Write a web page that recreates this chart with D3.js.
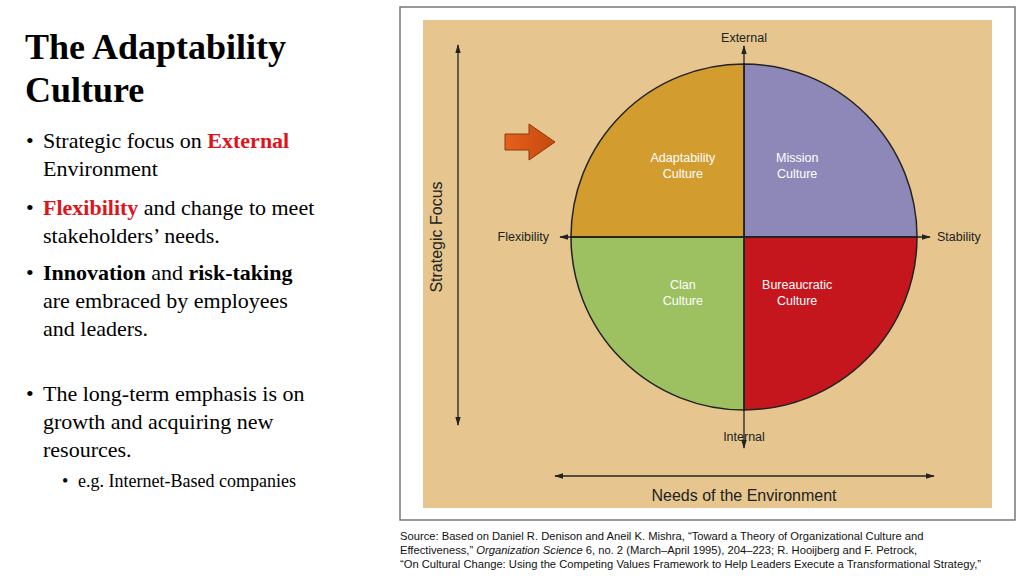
<!DOCTYPE html>
<html><head><meta charset="utf-8">
<script src="https://cdn.jsdelivr.net/npm/d3@7"></script>
<style>body{margin:0;background:#fff}svg{display:block}</style>
</head><body>
<svg id="s" width="1024" height="576"></svg>
<script>
const quadrants = ['Mission Culture', 'Bureaucratic Culture', 'Clan Culture', 'Adaptability Culture']
const quadrantValues = [1, 1, 1, 1]
const quadrantColors = ['#8e88b8', '#c4161c', '#9dc060', '#d29c2e']
const axisLabels = { top: 'External', bottom: 'Internal', left: 'Flexibility', right: 'Stability' }
const bullets = [
  { lines: [[['Strategic focus on ', 0], ['External', 2]], [['Environment', 0]]], y: 148 },
  { lines: [[['Flexibility', 2], [' and change to meet', 0]], [['stakeholders\u2019 needs.', 0]]], y: 215 },
  { lines: [[['Innovation', 1], [' and ', 0], ['risk-taking', 1]], [['are embraced by employees', 0]], [['and leaders.', 0]]], y: 280 },
  { lines: [[['The long-term emphasis is on', 0]], [['growth and acquiring new', 0]], [['resources.', 0]]], y: 401 }
]
const sourceLines = [
  [['Source: Based on Daniel R. Denison and Aneil K. Mishra, \u201cToward a Theory of Organizational Culture and', 0]],
  [['Effectiveness,\u201d ', 0], ['Organization Science', 1], [' 6, no. 2 (March\u2013April 1995), 204\u2013223; R. Hooijberg and F. Petrock,', 0]],
  [['\u201cOn Cultural Change: Using the Competing Values Framework to Help Leaders Execute a Transformational Strategy,\u201d', 0]]
]

const svg = d3.select('#s')
const serif = 'Liberation Serif, Times New Roman, serif'
const sans = 'Liberation Sans Narrow, Liberation Sans, Arial, sans-serif'

// left text
const title = svg.append('text').attr('x', 25).attr('font-family', serif).attr('font-weight', 'bold').attr('font-size', 36)
title.append('tspan').attr('x', 25).attr('y', 59).text('The Adaptability')
title.append('tspan').attr('x', 25).attr('y', 102).text('Culture')

bullets.forEach(b => {
  svg.append('text').attr('x', 26).attr('y', b.y).attr('font-family', serif).attr('font-size', 22).text('\u2022')
  b.lines.forEach((line, i) => {
    const t = svg.append('text').attr('x', 43).attr('y', b.y + i * 28).attr('font-family', serif).attr('font-size', 22)
    line.forEach(([s, k]) => {
      t.append('tspan').text(s)
        .attr('font-weight', k ? 'bold' : null)
        .attr('fill', k === 2 ? '#e0131b' : '#000')
    })
  })
})
svg.append('text').attr('x', 62).attr('y', 487).attr('font-family', serif).attr('font-size', 18).text('\u2022')
svg.append('text').attr('x', 78).attr('y', 487).attr('font-family', serif).attr('font-size', 18).text('e.g. Internet-Based companies')

// frame
svg.append('rect').attr('x', 400).attr('y', 7).attr('width', 615).attr('height', 513).attr('fill', '#fff').attr('stroke', '#777').attr('stroke-width', 1.5)
svg.append('rect').attr('x', 423).attr('y', 20).attr('width', 569).attr('height', 488).attr('fill', '#e6c68e')

const defs = svg.append('defs')
const mk = defs.append('marker').attr('id', 'ah').attr('viewBox', '0 0 10 10').attr('refX', 9).attr('refY', 5)
  .attr('markerWidth', 7).attr('markerHeight', 7).attr('orient', 'auto-start-reverse')
mk.append('path').attr('d', 'M0,2 L10,5 L0,8 Z').attr('fill', '#222')
const gr = defs.append('linearGradient').attr('id', 'og').attr('x1', 0).attr('x2', 1)
gr.append('stop').attr('offset', 0).attr('stop-color', '#e8601a')
gr.append('stop').attr('offset', 1).attr('stop-color', '#c24a10')

const cx = 744, cy = 237, r = 173
const pie = d3.pie().sort(null)(quadrantValues)
const arc = d3.arc().innerRadius(0).outerRadius(r)
const g = svg.append('g').attr('transform', `translate(${cx},${cy})`)
g.selectAll('path').data(pie).join('path').attr('d', arc)
  .attr('fill', (d, i) => quadrantColors[i]).attr('stroke', '#222').attr('stroke-width', 1.5)
g.selectAll('text.q').data(pie).join('text').attr('class', 'q')
  .attr('font-family', sans).attr('font-size', 12.5).attr('fill', '#fff').attr('text-anchor', 'middle')
  .each(function (d, i) {
    const c = arc.centroid(d)
    const words = quadrants[i].split(' ')
    const x = c[0] + (c[0] > 0 ? -8 : 0)
    const y = c[1] < 0 ? -75 : 52
    d3.select(this).selectAll('tspan').data(words).join('tspan')
      .attr('x', x).attr('y', (w, j) => y + j * 16).text(w => w)
  })

const line = (x1, y1, x2, y2, both) => svg.append('line').attr('x1', x1).attr('y1', y1).attr('x2', x2).attr('y2', y2)
  .attr('stroke', '#222').attr('stroke-width', 1.3).attr('marker-end', 'url(#ah)').attr('marker-start', both ? 'url(#ah)' : null)
line(cx, 448, cx, 46, true)
line(560, cy, 930, cy, true)
line(458, 425, 458, 45, true)
line(555, 476, 934, 476, true)

const lab = (x, y, s, size, anchor) => svg.append('text').attr('x', x).attr('y', y).attr('font-family', sans)
  .attr('font-size', size).attr('fill', '#222').attr('text-anchor', anchor || 'middle').text(s)
lab(cx, 42, axisLabels.top, 12.5)
lab(cx, 441, axisLabels.bottom, 12.5)
lab(549, 241, axisLabels.left, 12.5, 'end')
lab(937, 241, axisLabels.right, 12.5, 'start')
lab(cx, 501, 'Needs of the Environment', 16)
svg.append('text').attr('transform', 'translate(442,237) rotate(-90)').attr('font-family', sans).attr('font-size', 16)
  .attr('fill', '#222').attr('text-anchor', 'middle').text('Strategic Focus')

// orange arrow
svg.append('path').attr('d', 'M505,134 L529,134 L529,124 L555,142 L529,160 L529,150 L505,150 Z')
  .attr('fill', 'url(#og)').attr('stroke', '#8a3a10').attr('stroke-width', 1)

sourceLines.forEach((ln, i) => {
  const t = svg.append('text').attr('x', 400).attr('y', 540 + i * 14).attr('font-family', sans).attr('font-size', 11.2).attr('fill', '#111')
  ln.forEach(([s, it]) => t.append('tspan').attr('font-style', it ? 'italic' : null).text(s))
})
</script>
</body></html>
